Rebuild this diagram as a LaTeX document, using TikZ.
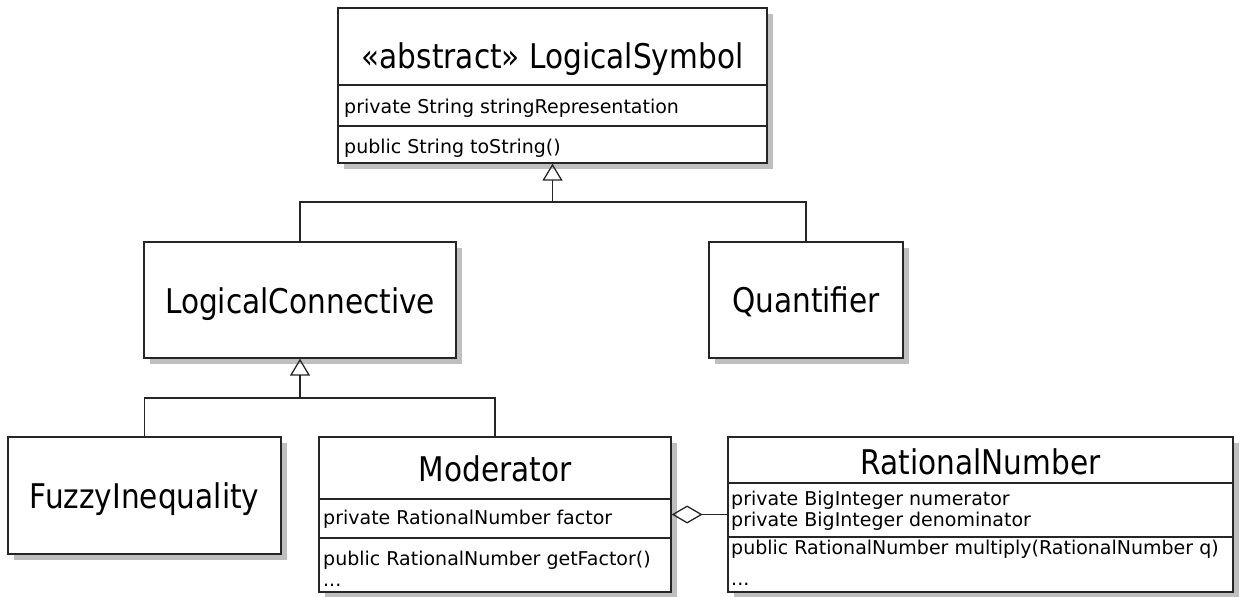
\documentclass[tikz,border=0pt]{standalone}
\usepackage{fontspec}
\setmainfont{DejaVu Sans}
\newfontfamily\titlefont{DejaVu Sans}[FakeStretch=0.87]
\usetikzlibrary{arrows.meta,shadows}

\tikzset{
  x=1pt, y=-1pt,
  umlline/.style={draw=black!85, line width=1.3pt},
  umlbox/.style={rectangle, umlline, fill=white, inner sep=0pt,
    drop shadow={shadow xshift=6pt, shadow yshift=-6pt, fill=black!25, opacity=1}},
  classname/.style={anchor=base, inner sep=0pt, font=\titlefont\fontsize{34}{38}\selectfont},
  member/.style={anchor=base west, inner sep=0pt, font=\fontsize{19}{22}\selectfont},
  gen/.style={umlline, -{Triangle[open, length=17pt, width=20pt]}},
  agg/.style={umlline, {Diamond[open, length=31pt, width=18pt]}-},
}

\begin{document}
\begin{tikzpicture}
\useasboundingbox (0,0) rectangle (1245,597);

% ---- class boxes ----
\node[umlbox, minimum width=429pt, minimum height=155pt] (ls)  at (552.5,85.5) {};
\node[umlbox, minimum width=312pt, minimum height=116pt] (lc)  at (300,300) {};
\node[umlbox, minimum width=194pt, minimum height=116pt] (q)   at (806,300) {};
\node[umlbox, minimum width=273pt, minimum height=117pt] (fi)  at (144.5,495.5) {};
\node[umlbox, minimum width=352pt, minimum height=155pt] (mod) at (495,514.5) {};
\node[umlbox, minimum width=505pt, minimum height=155pt] (rn)  at (980.5,514.5) {};

% ---- compartment separators ----
\draw[umlline] (ls.west |- 0,85)   -- (ls.east |- 0,85);
\draw[umlline] (ls.west |- 0,126)  -- (ls.east |- 0,126);
\draw[umlline] (mod.west |- 0,499) -- (mod.east |- 0,499);
\draw[umlline] (mod.west |- 0,538) -- (mod.east |- 0,538);
\draw[umlline] (rn.west |- 0,483)  -- (rn.east |- 0,483);
\draw[umlline] (rn.west |- 0,537)  -- (rn.east |- 0,537);

% ---- class names ----
\node[classname] (ls-n)  at (552.5,68) {«abstract» LogicalSymbol};
\node[classname] (lc-n)  at (300,313)  {LogicalConnective};
\node[classname] (q-n)   at (806,312)  {Quantifier};
\node[classname] (fi-n)  at (144.5,508) {FuzzyInequality};
\node[classname] (mod-n) at (495,481)  {Moderator};
\node[classname] (rn-n)  at (980.5,474) {RationalNumber};

% ---- attributes and operations ----
\node[member] (ls-a1)  at (344,113) {private String stringRepresentation};
\node[member] (ls-o1)  at (344,153) {public String toString()};
\node[member] (mod-a1) at (323,524) {private RationalNumber factor};
\node[member] (mod-o1) at (323,565) {public RationalNumber getFactor()};
\node[member] (mod-o2) at (323,586) {...};
\node[member] (rn-a1)  at (731,505) {private BigInteger numerator};
\node[member] (rn-a2)  at (731,526) {private BigInteger denominator};
\node[member] (rn-o1)  at (731,554) {public RationalNumber multiply(RationalNumber q)};
\node[member] (rn-o2)  at (731,585) {...};

% ---- generalisations ----
\coordinate (j1) at (552.5,202);
\coordinate (j2) at (300,398);
\draw[gen] (lc.north) |- (j1) -- (ls.south);
\draw[umlline] (q.north) |- (j1);
\draw[gen] (fi.north) |- (j2) -- (lc.south);
\draw[umlline] (mod.north) |- (j2);

% ---- aggregation ----
\draw[agg] (mod.east) -- (mod.east -| rn.west);
\end{tikzpicture}
\end{document}
